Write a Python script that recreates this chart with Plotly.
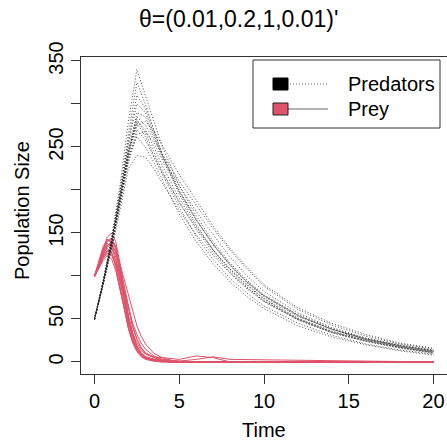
import plotly.graph_objects as go

# ---- data ----
pred_times = [0, 0.5, 1, 1.5, 2, 2.5, 3, 3.5, 4, 5, 6, 7, 8, 9, 10, 12, 14, 16, 18, 20]
pred_01 = [50, 93, 145, 205, 280, 340, 310, 280, 250, 205, 170, 140, 115, 95, 78, 55, 39, 27, 19, 13]
pred_02 = [51, 91, 140, 198, 265, 325, 300, 270, 240, 198, 165, 136, 112, 92, 76, 53, 38, 26, 18, 12]
pred_03 = [49, 90, 135, 185, 240, 290, 285, 262, 238, 205, 175, 148, 122, 100, 82, 57, 40, 28, 20, 14]
pred_04 = [50, 92, 137, 188, 245, 280, 270, 250, 228, 190, 158, 130, 108, 89, 73, 50, 35, 25, 17, 11]
pred_05 = [50, 89, 132, 180, 232, 265, 268, 255, 235, 198, 165, 137, 113, 93, 77, 54, 38, 27, 19, 13]
pred_06 = [51, 94, 142, 195, 255, 300, 290, 265, 240, 195, 160, 130, 106, 87, 71, 49, 34, 24, 16, 10]
pred_07 = [50, 91, 136, 186, 238, 262, 250, 232, 212, 172, 140, 114, 93, 76, 62, 42, 29, 20, 13, 8]
pred_08 = [49, 88, 130, 176, 225, 240, 238, 225, 208, 176, 148, 124, 103, 85, 70, 49, 34, 24, 17, 11]
pred_09 = [50, 92, 139, 192, 250, 285, 275, 258, 242, 210, 182, 155, 130, 108, 88, 61, 43, 30, 21, 15]
pred_10 = [50, 90, 134, 183, 236, 270, 258, 238, 218, 180, 146, 119, 97, 80, 65, 45, 31, 21, 14, 9]
pred_11 = [51, 93, 141, 196, 258, 310, 295, 268, 242, 200, 166, 137, 113, 93, 77, 54, 38, 27, 19, 13]
pred_12 = [50, 91, 138, 189, 243, 278, 262, 240, 220, 185, 156, 130, 108, 90, 74, 51, 36, 26, 18, 12]
pred_13 = [50, 90, 136, 187, 242, 275, 280, 268, 252, 218, 188, 158, 132, 110, 90, 63, 45, 32, 22, 16]
pred_14 = [49, 91, 137, 190, 246, 282, 266, 244, 222, 186, 154, 127, 104, 86, 71, 50, 35, 25, 17, 11]

prey_times = [0, 0.25, 0.5, 0.75, 1, 1.25, 1.5, 1.75, 2, 2.25, 2.5, 2.75, 3, 3.5, 4, 4.5, 5, 6, 7, 8, 20]
prey_01 = [100, 115, 132, 145, 150, 140, 115, 85, 55, 33, 18, 9, 5, 2, 1, 0, 0, 0, 0, 0, 0]
prey_02 = [101, 110, 122, 130, 128, 112, 88, 62, 40, 24, 13, 7, 4, 1, 0, 0, 0, 0, 0, 0, 0]
prey_03 = [100, 113, 128, 140, 142, 135, 112, 88, 62, 42, 27, 17, 11, 5, 2, 1, 0, 0, 0, 0, 0]
prey_04 = [99, 108, 118, 124, 120, 106, 84, 60, 40, 25, 15, 9, 5, 2, 1, 0, 0, 0, 0, 0, 0]
prey_05 = [100, 116, 134, 143, 138, 122, 98, 70, 46, 28, 16, 9, 5, 3, 1, 0, 0, 0, 0, 0, 0]
prey_06 = [101, 111, 124, 134, 136, 128, 108, 84, 60, 40, 26, 16, 10, 6, 5, 4, 3, 7, 5, 0, 0]
prey_07 = [100, 112, 126, 132, 127, 110, 86, 60, 38, 22, 12, 6, 3, 1, 0, 0, 0, 0, 0, 0, 0]
prey_08 = [100, 109, 120, 128, 130, 126, 114, 96, 76, 58, 42, 30, 21, 10, 5, 2, 1, 0, 0, 0, 0]
prey_09 = [100, 114, 130, 138, 134, 118, 94, 68, 45, 28, 17, 10, 6, 3, 1, 0, 0, 0, 0, 0, 0]
prey_10 = [99, 110, 121, 126, 124, 114, 96, 74, 52, 34, 22, 14, 9, 5, 3, 2, 1, 3, 6, 3, 0]
prey_11 = [100, 113, 127, 136, 138, 128, 104, 76, 50, 31, 18, 10, 6, 3, 1, 0, 0, 0, 0, 0, 0]
prey_12 = [101, 112, 125, 135, 140, 132, 110, 80, 52, 32, 19, 11, 6, 3, 2, 1, 0, 0, 0, 0, 0]
prey_13 = [100, 111, 123, 129, 126, 118, 102, 82, 62, 45, 32, 22, 15, 7, 3, 1, 0, 0, 0, 0, 0]
prey_14 = [100, 115, 131, 141, 144, 133, 107, 77, 49, 29, 16, 8, 4, 2, 1, 0, 0, 0, 0, 0, 0]

predators = [pred_01, pred_02, pred_03, pred_04, pred_05, pred_06, pred_07,
             pred_08, pred_09, pred_10, pred_11, pred_12, pred_13, pred_14]
preys = [prey_01, prey_02, prey_03, prey_04, prey_05, prey_06, prey_07,
         prey_08, prey_09, prey_10, prey_11, prey_12, prey_13, prey_14]

x_ticks = [0, 5, 10, 15, 20]
y_ticks = [0, 50, 100, 150, 200, 250, 300, 350]
y_tick_labels = ["0", "50", "", "150", "", "250", "", "350"]
title_text = "θ=(0.01,0.2,1,0.01)'"
legend_labels = ["Predators", "Prey"]

PREY_COL = "#DF536B"
FONT = "Liberation Sans, Arial, sans-serif"

W, H = 447, 440
L, R, T, B = 81, 447, 57, 374


def px(xp):
    return (xp - L) / (R - L)


def py(yp):
    return (B - yp) / (B - T)


fig = go.Figure()
for s in preys:
    fig.add_trace(go.Scatter(x=prey_times, y=s, mode="lines",
                             line=dict(color=PREY_COL, width=1),
                             showlegend=False, hoverinfo="skip"))
for s in predators:
    fig.add_trace(go.Scatter(x=pred_times, y=s, mode="lines",
                             line=dict(color="#222222", width=0.8, dash="1px,2px"),
                             showlegend=False, hoverinfo="skip"))

shapes = []
annotations = []
# legend box
shapes.append(dict(type="rect", xref="paper", yref="paper",
                   x0=px(253), x1=px(440), y0=py(128), y1=py(60),
                   line=dict(color="#333333", width=1), fillcolor="white", layer="above"))
legend_rows = [(84, "black", "1px,2px", "black"), (109, PREY_COL, "solid", "#222222")]
for (yc, fill, dash, edge), lab in zip(legend_rows, legend_labels):
    shapes.append(dict(type="line", xref="paper", yref="paper",
                       x0=px(287), x1=px(328), y0=py(yc), y1=py(yc),
                       line=dict(color="#666666", width=1, dash=dash), layer="above"))
    shapes.append(dict(type="rect", xref="paper", yref="paper",
                       x0=px(273), x1=px(288), y0=py(yc + 6), y1=py(yc - 6),
                       line=dict(color=edge, width=1), fillcolor=fill, layer="above"))
    annotations.append(dict(text=lab, xref="paper", yref="paper",
                            x=px(346), y=py(yc), xanchor="left", yanchor="middle",
                            showarrow=False, font=dict(size=20, color="black", family=FONT)))

annotations.append(dict(text=title_text, xref="paper", yref="paper",
                        x=px(238), y=py(19), xanchor="center", yanchor="middle",
                        showarrow=False, font=dict(size=23, color="black", family=FONT)))
annotations.append(dict(text="Time", xref="paper", yref="paper",
                        x=px(264), y=py(430), xanchor="center", yanchor="middle",
                        showarrow=False, font=dict(size=20, color="black", family=FONT)))
annotations.append(dict(text="Population Size", xref="paper", yref="paper",
                        x=px(22), y=py(210), xanchor="center", yanchor="middle",
                        textangle=-90,
                        showarrow=False, font=dict(size=20, color="black", family=FONT)))

fig.update_layout(
    width=W, height=H,
    margin=dict(l=L, r=W - R, t=T, b=H - B),
    paper_bgcolor="white", plot_bgcolor="white",
    showlegend=False,
    shapes=shapes, annotations=annotations,
    font=dict(family=FONT, size=20, color="black"),
)
fig.update_xaxes(range=[-0.8, 20.8], tickvals=x_ticks, ticks="outside", ticklen=9,
                 tickcolor="#333333", showgrid=False, zeroline=False,
                 showline=True, linecolor="#333333", linewidth=1, mirror=True,
                 tickfont=dict(size=20, family=FONT))
fig.update_yaxes(range=[-14, 354.6], tickvals=y_ticks, ticktext=y_tick_labels,
                 ticks="outside", ticklen=9, tickangle=-90,
                 tickcolor="#333333", showgrid=False, zeroline=False,
                 showline=True, linecolor="#333333", linewidth=1, mirror=True,
                 tickfont=dict(size=20, family=FONT))

fig.write_html("out.html", config={"displayModeBar": False},
               post_script="document.body.style.margin='0';document.body.style.overflow='hidden';")
